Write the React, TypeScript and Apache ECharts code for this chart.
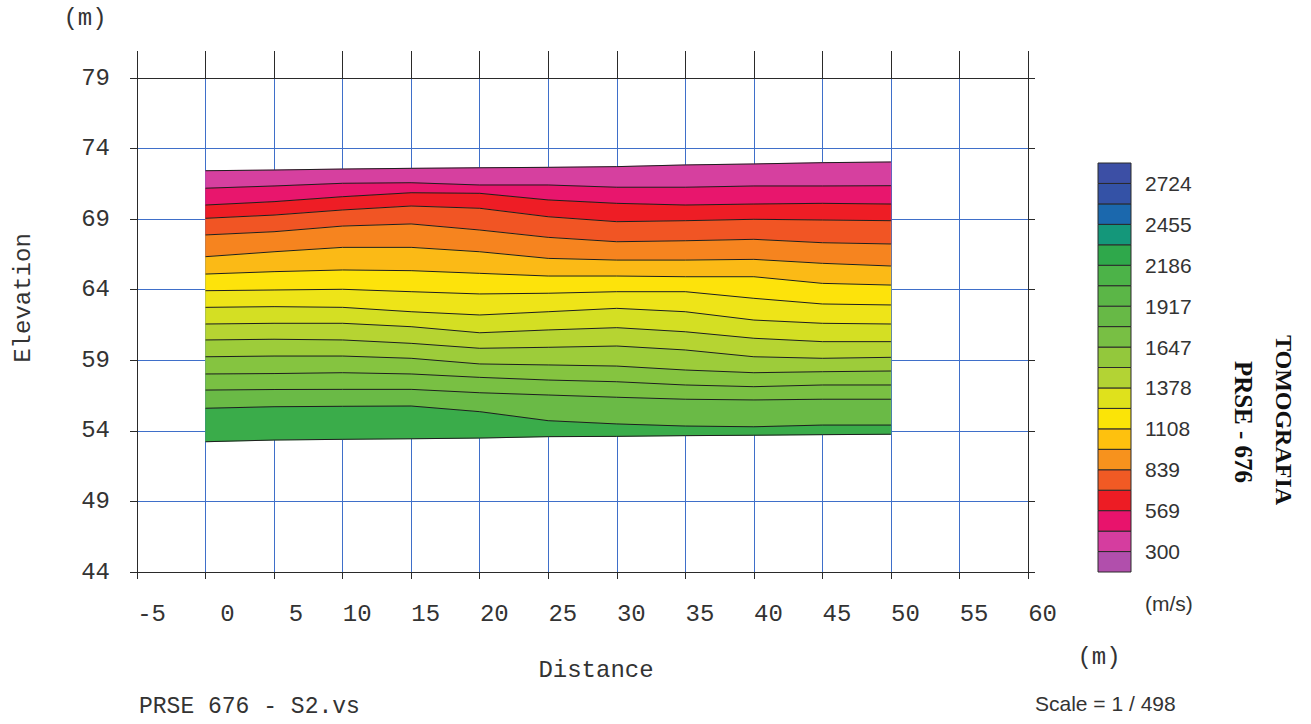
import React, { useEffect, useRef } from "react";
import * as echarts from "echarts";

// ---------- data ----------
const Y_BASE = 44; // elevation at the bottom of the axis (axis runs 0..35 above it)
const X_POS = [0, 5, 10, 15, 20, 25, 30, 35, 40, 45, 50];

const TOP_EDGE = [72.43, 72.48, 72.55, 72.6, 72.64, 72.67, 72.72, 72.84, 72.91, 73.0, 73.05];
const C01 = [71.19, 71.35, 71.54, 71.58, 71.42, 71.42, 71.26, 71.26, 71.35, 71.35, 71.37];
const C02 = [70.0, 70.24, 70.59, 70.87, 70.83, 70.36, 70.12, 70.0, 70.07, 70.12, 70.07];
const C03 = [69.06, 69.29, 69.65, 69.93, 69.77, 69.17, 68.82, 68.89, 68.99, 68.94, 68.89];
const C04 = [67.88, 68.11, 68.51, 68.66, 68.23, 67.71, 67.4, 67.47, 67.57, 67.33, 67.24];
const C05 = [66.34, 66.69, 67.0, 67.0, 66.69, 66.22, 66.1, 66.1, 66.15, 65.87, 65.68];
const C06 = [65.11, 65.28, 65.4, 65.35, 65.16, 64.97, 64.97, 64.92, 64.92, 64.45, 64.33];
const C07 = [63.93, 63.98, 64.03, 63.86, 63.7, 63.75, 63.86, 63.86, 63.39, 62.99, 62.92];
const C08 = [62.75, 62.8, 62.75, 62.44, 62.21, 62.44, 62.68, 62.44, 61.85, 61.62, 61.57];
const C09 = [61.57, 61.62, 61.62, 61.38, 60.95, 61.15, 61.31, 61.02, 60.56, 60.32, 60.32];
const C10 = [60.44, 60.49, 60.44, 60.2, 59.85, 59.92, 60.01, 59.73, 59.25, 59.14, 59.21];
const C11 = [59.25, 59.3, 59.3, 59.14, 58.74, 58.67, 58.59, 58.31, 58.12, 58.19, 58.24];
const C12 = [58.03, 58.06, 58.12, 58.03, 57.79, 57.6, 57.48, 57.25, 57.13, 57.25, 57.25];
const C13 = [56.89, 56.93, 56.94, 56.94, 56.7, 56.54, 56.38, 56.24, 56.19, 56.24, 56.24];
const C14 = [55.6, 55.71, 55.74, 55.76, 55.36, 54.72, 54.49, 54.34, 54.29, 54.41, 54.41];
const BOTTOM_EDGE = [53.23, 53.35, 53.4, 53.44, 53.49, 53.59, 53.61, 53.66, 53.69, 53.73, 53.76];

const CONTOURS = [TOP_EDGE, C01, C02, C03, C04, C05, C06, C07, C08, C09, C10, C11, C12, C13, C14, BOTTOM_EDGE];

// band fills, top to bottom
const BAND_COLORS = [
  "#d6409f", "#e8166d", "#ee1d25", "#f15524", "#f6841f", "#fbba16", "#fde30b",
  "#eee418", "#d4df23", "#b6d432", "#9dcc3a", "#85c440", "#79c043", "#6aba46", "#3aac4a",
];

// colour scale cells, bottom to top
const CB_COLORS = [
  "#b14fac", "#d53d9f", "#e8136c", "#ed1c24", "#f15a24", "#f7921d", "#fec10e", "#fbe407",
  "#dfe11c", "#b3d334", "#93c83c", "#78bf44", "#67b946", "#5bb647", "#4cb348", "#2fa84b",
  "#14977a", "#1b68ad", "#3452a6", "#3c4fa5",
];
const CB_LABELS = ["300", "569", "839", "1108", "1378", "1647", "1917", "2186", "2455", "2724"];

// ---------- styles ----------
const MONO = "'Liberation Mono', 'Courier New', monospace";
const SANS = "'Liberation Sans', Arial, sans-serif";
const SERIF = "'Liberation Serif', 'Times New Roman', serif";
const BLUE = "#3f6fc9";
const DARK = "#2a2a2a";
const TXT = "#333";

export default function App() {
  const ref = useRef<HTMLDivElement>(null);

  useEffect(() => {
    if (!ref.current) return;
    const chart = echarts.init(ref.current, null, { renderer: "svg" });

    const bandSeries = {
      type: "custom",
      xAxisIndex: 0,
      yAxisIndex: 0,
      silent: true,
      z: 2,
      clip: false,
      data: BAND_COLORS.map((_, i) => [i]),
      renderItem: (params: any, api: any) => {
        const k = params.dataIndex;
        const upper = CONTOURS[k];
        const lower = CONTOURS[k + 1];
        const pts: number[][] = [];
        X_POS.forEach((x, i) => pts.push(api.coord([x, upper[i] - Y_BASE])));
        for (let i = X_POS.length - 1; i >= 0; i--) pts.push(api.coord([X_POS[i], lower[i] - Y_BASE]));
        return {
          type: "polygon",
          shape: { points: pts },
          style: { fill: BAND_COLORS[k], stroke: BAND_COLORS[k], lineWidth: 0.6 },
        };
      },
    };

    const lineSeries = CONTOURS.map((c) => ({
      type: "line",
      xAxisIndex: 0,
      yAxisIndex: 0,
      silent: true,
      z: 3,
      symbol: "none",
      data: X_POS.map((x, i) => [x, c[i] - Y_BASE]),
      lineStyle: { color: "#1e1e1e", width: 1 },
    }));

    const colorbarSeries = {
      type: "custom",
      xAxisIndex: 2,
      yAxisIndex: 2,
      silent: true,
      z: 2,
      data: CB_COLORS.map((_, i) => [i]),
      renderItem: (params: any, api: any) => {
        const i = params.dataIndex;
        const p0 = api.coord([0, i]);
        const p1 = api.coord([1, i + 1]);
        return {
          type: "rect",
          shape: { x: p0[0], y: p1[1], width: p1[0] - p0[0], height: p0[1] - p1[1] },
          style: { fill: CB_COLORS[i], stroke: DARK, lineWidth: 1 },
        };
      },
    };

    const option: any = {
      animation: false,
      backgroundColor: "#ffffff",
      grid: [
        { left: 137, top: 78, width: 891, height: 494 },
        { left: 1098, top: 163, width: 33, height: 409 },
      ],
      xAxis: [
        {
          gridIndex: 0,
          type: "value",
          min: -5,
          max: 60,
          interval: 5,
          position: "bottom",
          axisLine: { show: true, onZero: false, lineStyle: { color: DARK, width: 1 } },
          axisTick: { show: true, length: 7, lineStyle: { color: DARK, width: 1 } },
          splitLine: { show: true, showMinLine: false, showMaxLine: false, lineStyle: { color: BLUE, width: 1 } },
          axisLabel: {
            margin: 30,
            formatter: (v: number) => `{a|${v}}`,
            rich: { a: { width: 58, align: "right", fontFamily: MONO, fontSize: 24, color: TXT } },
          },
        },
        {
          gridIndex: 0,
          type: "value",
          min: -5,
          max: 60,
          interval: 5,
          position: "top",
          axisLine: { show: true, onZero: false, lineStyle: { color: DARK, width: 1 } },
          axisTick: { show: true, length: 27, lineStyle: { color: DARK, width: 1 } },
          splitLine: { show: false },
          axisLabel: { show: false },
        },
        { gridIndex: 1, type: "value", min: 0, max: 1, show: false },
      ],
      yAxis: [
        {
          gridIndex: 0,
          type: "value",
          min: 0,
          max: 35,
          interval: 5,
          position: "left",
          axisLine: { show: true, onZero: false, lineStyle: { color: DARK, width: 1 } },
          axisTick: { show: true, length: 7, lineStyle: { color: DARK, width: 1 } },
          splitLine: { show: true, showMinLine: false, showMaxLine: false, lineStyle: { color: BLUE, width: 1 } },
          axisLabel: {
            margin: 27,
            formatter: (v: number) => String(v + Y_BASE),
            fontFamily: MONO,
            fontSize: 24,
            color: TXT,
            padding: [0, 0, 9, 0],
          },
        },
        {
          gridIndex: 0,
          type: "value",
          min: 0,
          max: 35,
          interval: 5,
          position: "right",
          axisLine: { show: true, onZero: false, lineStyle: { color: DARK, width: 1 } },
          axisTick: { show: true, length: 7, lineStyle: { color: DARK, width: 1 } },
          splitLine: { show: false },
          axisLabel: { show: false },
        },
        {
          gridIndex: 1,
          type: "value",
          min: 0,
          max: 20,
          interval: 1,
          position: "right",
          axisLine: { show: false },
          axisTick: { show: false },
          splitLine: { show: false },
          axisLabel: {
            margin: 14,
            formatter: (v: number) => (v % 2 === 1 ? CB_LABELS[(v - 1) / 2] : ""),
            fontFamily: SANS,
            fontSize: 21,
            color: TXT,
          },
        },
      ],
      series: [bandSeries, ...lineSeries, colorbarSeries],
      graphic: [
        { type: "text", x: 85, y: 18, style: { text: "(m)", font: `24px ${MONO}`, fill: TXT, align: "center", verticalAlign: "middle" } },
        { type: "text", x: 23, y: 298, rotation: Math.PI / 2, style: { text: "Elevation", font: `24px ${MONO}`, fill: TXT, align: "center", verticalAlign: "middle" } },
        { type: "text", x: 596, y: 670, style: { text: "Distance", font: `24px ${MONO}`, fill: TXT, align: "center", verticalAlign: "middle" } },
        { type: "text", x: 1099, y: 657, style: { text: "(m)", font: `24px ${MONO}`, fill: TXT, align: "center", verticalAlign: "middle" } },
        { type: "text", x: 139, y: 707, style: { text: "PRSE 676 - S2.vs", font: `23px ${MONO}`, fill: TXT, align: "left", verticalAlign: "middle" } },
        { type: "text", x: 1035, y: 703, style: { text: "Scale = 1 / 498", font: `21px ${SANS}`, fill: TXT, align: "left", verticalAlign: "middle" } },
        { type: "text", x: 1145, y: 603, style: { text: "(m/s)", font: `21px ${SANS}`, fill: TXT, align: "left", verticalAlign: "middle" } },
        { type: "text", x: 1284, y: 420, rotation: -Math.PI / 2, style: { text: "TOMOGRAFIA", font: `bold 24px ${SERIF}`, fill: "#111", align: "center", verticalAlign: "middle" } },
        { type: "text", x: 1243, y: 422, rotation: -Math.PI / 2, style: { text: "PRSE - 676", font: `bold 25px ${SERIF}`, fill: "#111", align: "center", verticalAlign: "middle" } },
      ],
    };

    chart.setOption(option);
    return () => chart.dispose();
  }, []);

  return (
    <div
      ref={ref}
      style={{ position: "fixed", left: 0, top: 0, width: 1311, height: 724, background: "#fff" }}
    />
  );
}
